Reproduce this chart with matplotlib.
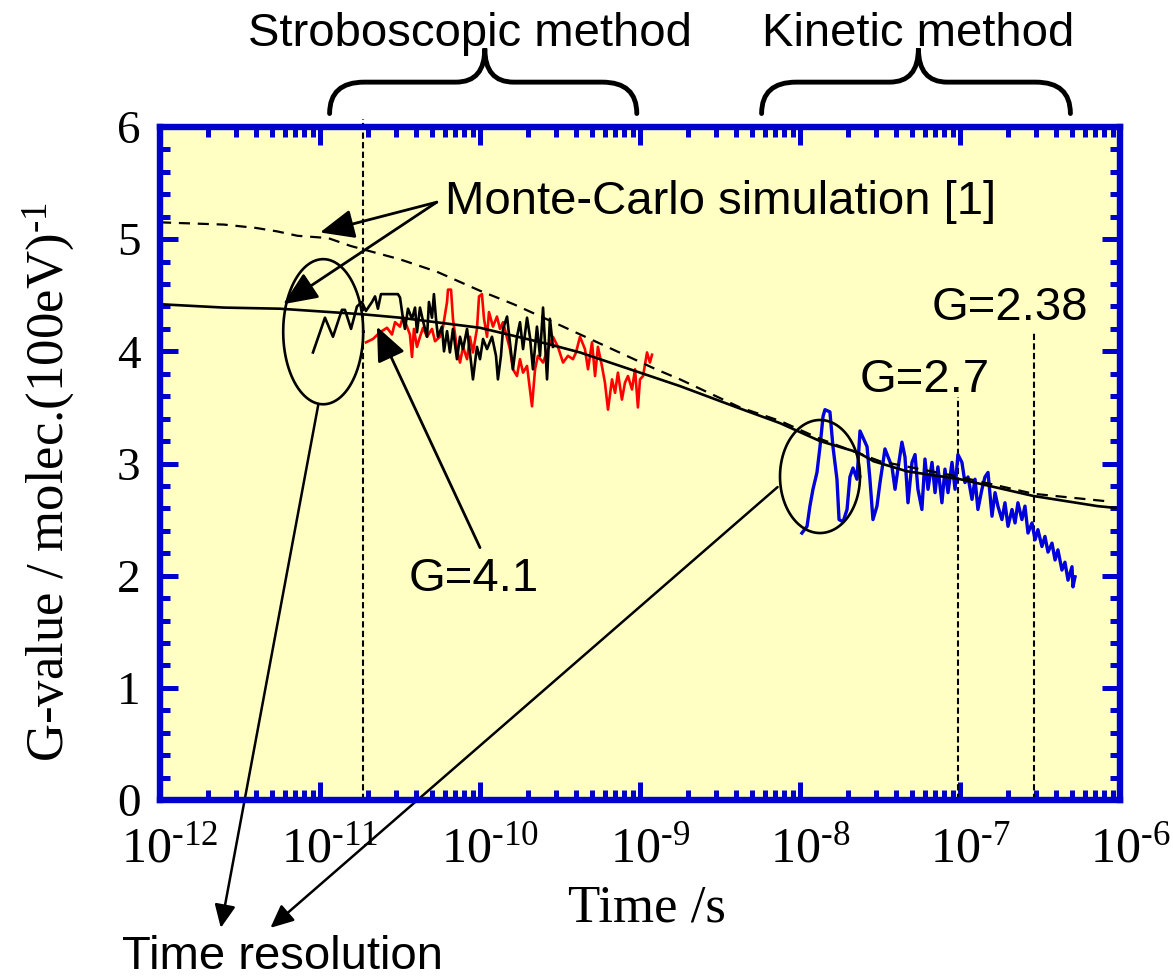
import numpy as np
import matplotlib
matplotlib.use("Agg")
import matplotlib.pyplot as plt
from matplotlib.path import Path
from matplotlib.patches import PathPatch
from matplotlib.transforms import ScaledTranslation
from matplotlib.ticker import LogLocator, MultipleLocator, NullFormatter, FuncFormatter

plt.rcParams['font.family'] = 'Liberation Serif'
plt.rcParams['mathtext.fontset'] = 'custom'
plt.rcParams['mathtext.rm'] = 'Liberation Serif'
plt.rcParams['mathtext.it'] = 'Liberation Serif:italic'
plt.rcParams['mathtext.bf'] = 'Liberation Serif:bold'

SANS = 'Liberation Sans'
FRAME = '#0000CC'
BG = '#FFFFC4'
HY = '\u2010'  # short hyphen for the exponents, like the original

# Monte-Carlo simulation (log10 of time in s, G-value)
mc_solid_logt = [-12.0, -11.6, -11.25, -10.73, -10.5, -10.0, -9.56, -9.375, -9.0, -8.75,
                 -8.375, -8.125, -7.875, -7.64, -7.54, -7.33, -7.0, -6.54, -6.14, -6.0]
mc_solid_g = [4.42, 4.39, 4.38, 4.33, 4.30, 4.21, 4.06, 3.99, 3.81, 3.69,
              3.49, 3.36, 3.20, 3.10, 3.02, 2.93, 2.86, 2.71, 2.62, 2.60]

mc_dash_logt = [-12.0, -11.6, -11.4, -11.27, -11.14, -10.95, -10.81, -10.5, -10.27, -10.0,
                -9.79, -9.48, -9.19, -8.9, -8.75, -8.375, -8.125, -7.875, -7.5, -7.0,
                -6.54, -6.06]
mc_dash_g = [5.15, 5.13, 5.10, 5.07, 5.03, 5.01, 4.94, 4.82, 4.71, 4.54,
             4.42, 4.22, 4.03, 3.84, 3.75, 3.50, 3.38, 3.22, 3.02, 2.88,
             2.73, 2.66]

# stroboscopic measurement, black run
black_logt = [-11.044, -10.969, -10.919, -10.863, -10.844, -10.806, -10.769, -10.738, -10.713, -10.675,
              -10.656, -10.638, -10.619, -10.513, -10.5, -10.481, -10.469, -10.45, -10.425, -10.406,
              -10.394, -10.375, -10.356, -10.331, -10.319, -10.3, -10.288, -10.275, -10.263, -10.238,
              -10.225, -10.206, -10.188, -10.169, -10.144, -10.125, -10.106, -10.081, -10.063, -10.044,
              -10.019, -10.0, -9.981, -9.956, -9.925, -9.9, -9.888, -9.869, -9.856, -9.831,
              -9.813, -9.794, -9.769, -9.75, -9.731, -9.706, -9.688, -9.669, -9.644, -9.625,
              -9.606, -9.581, -9.563, -9.544]
black_g = [3.99, 4.30, 4.13, 4.37, 4.37, 4.20, 4.40, 4.44, 4.36, 4.44,
           4.49, 4.38, 4.51, 4.51, 4.48, 4.29, 4.20, 4.38, 4.29, 4.39,
           4.17, 4.39, 4.27, 4.13, 4.44, 4.30, 4.51, 4.29, 4.13, 4.22,
           4.00, 4.18, 3.99, 4.20, 3.93, 4.13, 4.02, 4.20, 3.99, 3.75,
           4.04, 3.93, 4.11, 4.02, 4.13, 3.96, 3.75, 3.96, 4.20, 4.31,
           4.08, 3.84, 4.13, 4.26, 4.02, 4.30, 4.13, 3.84, 4.22, 3.96,
           4.39, 3.75, 4.29, 4.04]

# stroboscopic measurement, red run
red_logt = [-10.713, -10.669, -10.625, -10.581, -10.55, -10.531, -10.5, -10.481, -10.456, -10.438,
            -10.425, -10.413, -10.394, -10.375, -10.356, -10.331, -10.3, -10.281, -10.25, -10.231,
            -10.206, -10.2, -10.181, -10.169, -10.144, -10.125, -10.106, -10.081, -10.063, -10.044,
            -10.019, -10.006, -9.988, -9.975, -9.956, -9.944, -9.919, -9.894, -9.875, -9.856,
            -9.813, -9.794, -9.769, -9.75, -9.731, -9.706, -9.675, -9.656, -9.638, -9.606,
            -9.575, -9.544, -9.513, -9.481, -9.45, -9.419, -9.4, -9.375, -9.344, -9.325,
            -9.3, -9.281, -9.263, -9.238, -9.219, -9.2, -9.175, -9.156, -9.138, -9.113,
            -9.094, -9.075, -9.05, -9.031, -9.013, -9.0, -8.981, -8.956, -8.938, -8.925]
red_g = [4.08, 4.11, 4.17, 4.21, 4.15, 4.26, 4.22, 4.31, 4.22, 4.15,
         3.95, 4.20, 4.04, 4.13, 4.21, 4.13, 4.20, 4.09, 4.13, 4.22,
         4.44, 4.55, 4.55, 4.29, 4.02, 3.90, 4.04, 3.93, 4.13, 3.99,
         4.20, 4.49, 4.51, 4.29, 4.13, 4.35, 4.22, 4.31, 4.20, 4.26,
         4.02, 3.84, 3.78, 3.93, 3.81, 3.87, 3.51, 3.84, 3.96, 3.90,
         4.02, 4.13, 4.04, 3.90, 3.96, 3.93, 3.99, 4.13, 4.02, 3.84,
         4.08, 3.78, 4.04, 3.87, 3.72, 3.48, 3.75, 3.63, 3.81, 3.57,
         3.72, 3.78, 3.66, 3.84, 3.50, 3.75, 3.78, 3.99, 3.90, 3.97]

# kinetic measurement, blue run
blue_logt = [-7.988, -7.956, -7.938, -7.919, -7.894, -7.875, -7.856, -7.844, -7.813, -7.794,
             -7.769, -7.756, -7.731, -7.706, -7.688, -7.669, -7.644, -7.625, -7.606, -7.581,
             -7.563, -7.544, -7.519, -7.5, -7.481, -7.469, -7.45, -7.425, -7.406, -7.388,
             -7.363, -7.344, -7.325, -7.3, -7.281, -7.263, -7.238, -7.219, -7.2, -7.175,
             -7.156, -7.138, -7.113, -7.094, -7.075, -7.05, -7.031, -7.013, -6.988, -6.969,
             -6.95, -6.925, -6.906, -6.888, -6.863, -6.844, -6.825, -6.8, -6.781, -6.763,
             -6.738, -6.719, -6.7, -6.675, -6.656, -6.638, -6.613, -6.594, -6.575, -6.55,
             -6.531, -6.513, -6.488, -6.469, -6.45, -6.425, -6.406, -6.388, -6.363, -6.344,
             -6.325, -6.3, -6.294, -6.281]
blue_g = [2.38, 2.44, 2.62, 2.77, 2.92, 3.15, 3.42, 3.48, 3.46, 3.15,
          2.86, 2.50, 2.48, 2.59, 2.88, 2.96, 2.86, 3.29, 3.23, 3.15,
          2.86, 2.50, 2.62, 2.83, 3.01, 3.13, 3.06, 2.97, 2.77, 2.95,
          3.19, 3.06, 2.65, 3.01, 3.08, 2.77, 2.59, 3.04, 2.77, 3.01,
          2.74, 2.97, 2.65, 2.95, 2.74, 3.01, 2.77, 3.08, 3.01, 2.83,
          2.88, 2.68, 2.86, 2.59, 2.77, 2.88, 2.92, 2.53, 2.74, 2.62,
          2.50, 2.65, 2.44, 2.59, 2.47, 2.65, 2.50, 2.62, 2.38, 2.47,
          2.32, 2.41, 2.26, 2.35, 2.21, 2.29, 2.14, 2.23, 2.05, 2.12,
          1.96, 2.08, 1.90, 1.99]

# time-resolution markers (log10 time, G from, G to)
marker_lines = [(-10.73, 0.0, 6.07), (-7.01, 0.0, 3.59), (-6.54, 0.0, 4.18)]


def t(logt):
    return 10.0 ** np.asarray(logt)


def ellipse(ax, cx, cy, a, b):
    th = np.linspace(0, 2 * np.pi, 200)
    ax.plot(t(cx + a * np.cos(th)), cy + b * np.sin(th), color='black', lw=1.9, zorder=6)


def brace(ax, lt0, lt1, ltc, g_tip, g_bar, g_peak):
    # built in axes coordinates so the curves stay smooth on the log axis
    x0, x1, xc = [(v + 12) / 6 for v in (lt0, lt1, ltc)]
    yt, yb, yp = g_tip / 6, g_bar / 6, g_peak / 6
    r1, r2 = 0.036, 0.03
    verts = [(x0, yt), (x0, yb), (x0 + r1, yb), (xc - r2, yb), (xc, yb), (xc, yp),
             (xc, yb), (xc + r2, yb), (x1 - r1, yb), (x1, yb), (x1, yt)]
    codes = [Path.MOVETO, Path.CURVE3, Path.CURVE3, Path.LINETO, Path.CURVE3, Path.CURVE3,
             Path.CURVE3, Path.CURVE3, Path.LINETO, Path.CURVE3, Path.CURVE3]
    ax.add_patch(PathPatch(Path(verts, codes), fill=False, lw=3.5, color='black',
                           transform=ax.transAxes, clip_on=False, capstyle='round'))


def decade_label(v, pos):
    return r'$\mathdefault{10^{%s%d}}$' % (HY, abs(round(np.log10(v))))


fig = plt.figure(figsize=(11.73, 9.76), dpi=100)
ax = fig.add_axes([160 / 1173, 176 / 976, 960 / 1173, 673 / 976])
ax.set_facecolor(BG)
ax.set_xscale('log')
ax.set_xlim(1e-12, 1e-6)
ax.set_ylim(0, 6)

ax.xaxis.set_major_locator(LogLocator(base=10, numticks=10))
ax.xaxis.set_minor_locator(LogLocator(base=10, subs=np.arange(2, 10), numticks=20))
ax.xaxis.set_major_formatter(FuncFormatter(decade_label))
ax.xaxis.set_minor_formatter(NullFormatter())
ax.yaxis.set_major_locator(MultipleLocator(1))
ax.yaxis.set_minor_locator(MultipleLocator(0.2))

ax.tick_params(which='both', direction='in', top=True, right=True, color=FRAME, width=3.6,
               labelsize=34)
ax.tick_params(which='major', length=13)
ax.tick_params(which='minor', length=7)
ax.tick_params(axis='x', pad=19, labelsize=36)
ax.tick_params(axis='y', pad=14)
for s in ax.spines.values():
    s.set_color(FRAME)
    s.set_linewidth(4.6)
    s.set_zorder(10)

# the original puts the "10" on the tick and lets the exponent hang to the right
shift = ScaledTranslation(0.10, 0, fig.dpi_scale_trans)
for lab in ax.get_xticklabels():
    lab.set_transform(lab.get_transform() + shift)

ax.set_xlabel('Time /s', fontsize=38)
ax.xaxis.set_label_coords(0.507, -0.126)
ax.set_ylabel('G-value / molec.(100eV)$^{%s1}$' % HY, fontsize=38)
ax.yaxis.set_label_coords(-0.086, 0.472)

for lt, g0, g1 in marker_lines:
    ax.plot([10 ** lt, 10 ** lt], [g0, g1], color='black', lw=1.5, ls='--', dashes=(3, 1.6),
            clip_on=False, zorder=3)

ax.plot(t(red_logt), red_g, color='#FF0000', lw=1.9, zorder=4)
ax.plot(t(black_logt), black_g, color='black', lw=1.9, zorder=4)
ax.plot(t(blue_logt), blue_g, color='#0000DD', lw=2.4, zorder=4)
ax.plot(t(mc_dash_logt), mc_dash_g, color='black', lw=1.6, ls='--', dashes=(5, 3.5), zorder=5)
ax.plot(t(mc_solid_logt), mc_solid_g, color='black', lw=1.9, zorder=5)

ellipse(ax, -10.98, 4.175, 0.25, 0.647)
ellipse(ax, -7.875, 2.884, 0.25, 0.504)

big = dict(arrowstyle='-|>,head_length=1.05,head_width=0.45', mutation_scale=20,
           lw=2, color='black', shrinkA=0, shrinkB=0)
small = dict(arrowstyle='-|>,head_length=0.7,head_width=0.32', mutation_scale=20,
             lw=1.8, color='black', shrinkA=0, shrinkB=0)

ax.text(t(-10.22), 5.33, 'Monte-Carlo simulation [1]', family=SANS, fontsize=34,
        ha='left', va='center', zorder=7)
ax.annotate('', xy=(t(-11.0), 5.06), xytext=(t(-10.27), 5.33), arrowprops=big, zorder=7)
ax.annotate('', xy=(t(-11.23), 4.42), xytext=(t(-10.27), 5.33), arrowprops=big, zorder=7)

ax.text(t(-10.04), 1.97, 'G=4.1', family=SANS, fontsize=34, ha='center', va='center')
ax.annotate('', xy=(t(-10.644), 4.22), xytext=(t(-10.0), 2.25), arrowprops=big, zorder=7)

ax.text(t(-7.22), 3.74, 'G=2.7', family=SANS, fontsize=34, ha='center', va='center')
ax.text(t(-6.69), 4.39, 'G=2.38', family=SANS, fontsize=34, ha='center', va='center')

ax.text(t(-12.24), -1.51, 'Time resolution', family=SANS, fontsize=34,
        ha='left', va='baseline', clip_on=False)
ax.annotate('', xy=(t(-11.62), -1.14), xytext=(t(-11.01), 3.53), arrowprops=small,
            annotation_clip=False, zorder=7)
ax.annotate('', xy=(t(-11.31), -1.14), xytext=(t(-8.14), 2.79), arrowprops=small,
            annotation_clip=False, zorder=7)

brace(ax, -10.94, -9.02, -9.97, 6.12, 6.40, 6.70)
brace(ax, -8.24, -6.31, -7.26, 6.12, 6.40, 6.70)
ax.text(t(-10.06), 6.72, 'Stroboscopic method', family=SANS, fontsize=34,
        ha='center', va='baseline', clip_on=False)
ax.text(t(-7.26), 6.72, 'Kinetic method', family=SANS, fontsize=34,
        ha='center', va='baseline', clip_on=False)

fig.savefig('out.png', dpi=100)
